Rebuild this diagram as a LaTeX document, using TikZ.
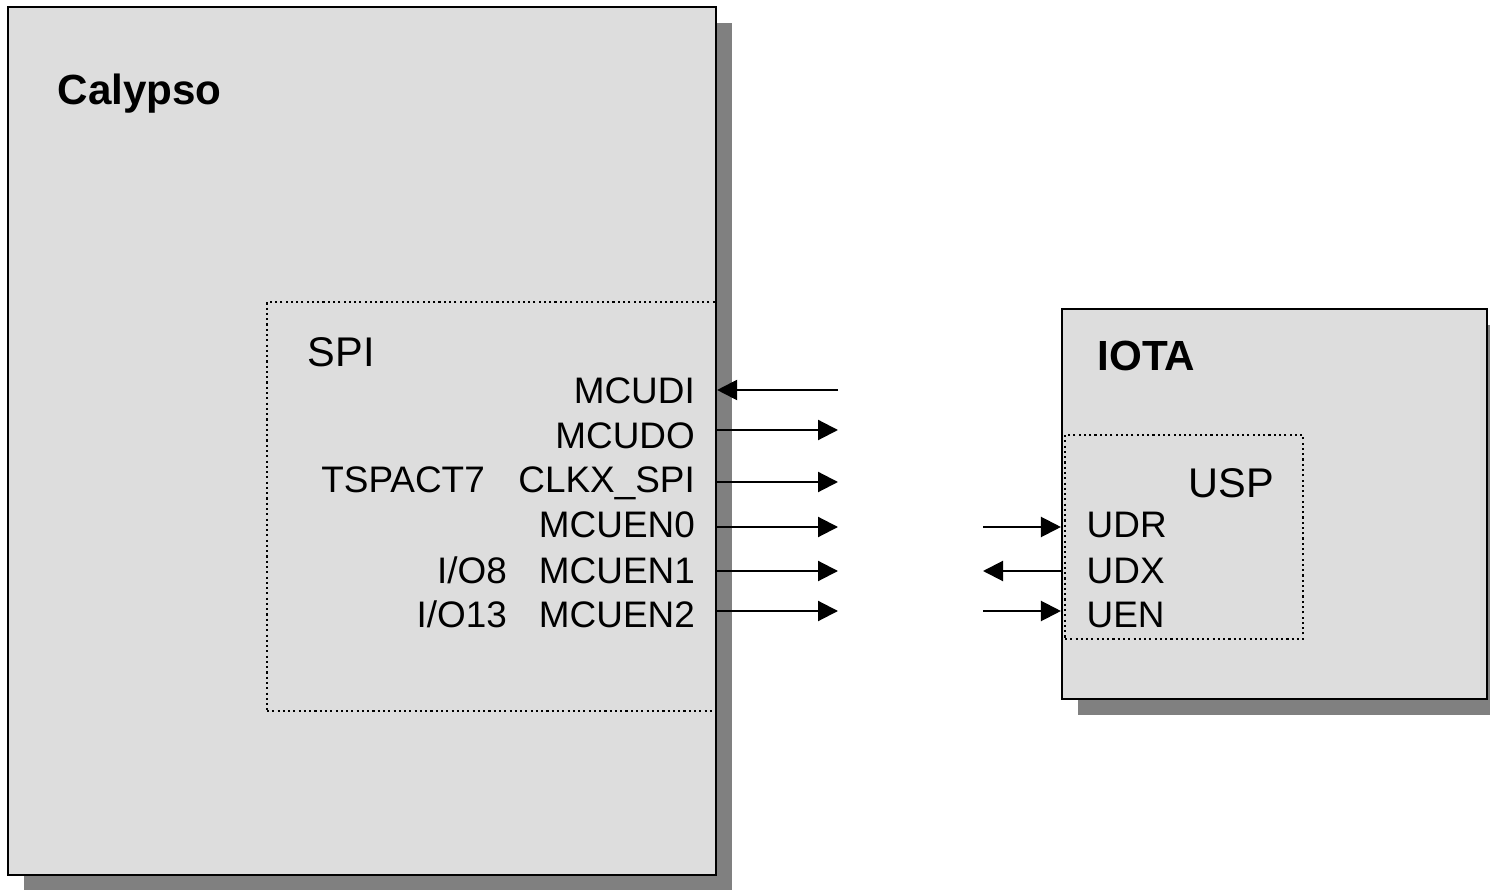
\documentclass[tikz,border=0pt]{standalone}
\usepackage{fontspec}
\setmainfont{Liberation Sans}
\usetikzlibrary{arrows.meta,shadows}
\definecolor{chipfill}{HTML}{DDDDDD}
\definecolor{chipshadow}{HTML}{808080}
\tikzset{
  chip/.style={draw, line width=0.6pt, fill=chipfill, inner sep=0pt,
    drop shadow={shadow xshift=0.16cm, shadow yshift=-0.16cm, fill=chipshadow, opacity=1}},
  block/.style={draw, line width=0.6pt, dash pattern=on 0.6pt off 0.9pt, inner sep=0pt},
  title/.style={font=\fontsize{12}{14}\selectfont\bfseries, inner sep=0pt},
  blocklabel/.style={font=\fontsize{11.8}{14}\selectfont, inner sep=0pt},
  pin/.style={font=\fontsize{10.5}{12}\selectfont, inner sep=0pt},
  sig/.style={line width=0.6pt, -{Triangle[length=2mm,width=2mm]}}
}
\begin{document}
\begin{tikzpicture}
	\useasboundingbox (0,0) rectangle (14.9,8.89);
	
	% Calypso 芯片 (带阴影的灰色大框)
	\node (calypso) [chip, minimum width=7.08cm, minimum height=8.68cm] at (3.62,4.48) {};
	\node (calypsoname) [title, anchor=base west] at (0.57,7.84) {Calypso};
	
	% SPI 模块 (虚线框)
	\node (spi) [block, minimum width=4.49cm, minimum height=4.09cm] at (4.915,3.825) {};
	\node (spiname) [blocklabel, anchor=base west] at (3.07,5.22) {SPI};
	
	% SPI 引脚名 (右对齐)
	\node (mcudi) [pin, anchor=base east] at (6.955,4.85) {MCUDI};
	\node (mcudo) [pin, anchor=base east] at (6.955,4.40) {MCUDO};
	\node (clkx) [pin, anchor=base east] at (6.955,3.96) {CLKX\_SPI};
	\node (mcuen0) [pin, anchor=base east] at (6.955,3.51) {MCUEN0};
	\node (mcuen1) [pin, anchor=base east] at (6.955,3.06) {MCUEN1};
	\node (mcuen2) [pin, anchor=base east] at (6.955,2.62) {MCUEN2};
	\node (tspact) [pin, anchor=base east] at (4.855,3.96) {TSPACT7}; % 复用引脚
	\node (io8) [pin, anchor=base east] at (5.075,3.06) {I/O8};
	\node (io13) [pin, anchor=base east] at (5.075,2.62) {I/O13};
	
	% IOTA 芯片
	\node (iota) [chip, minimum width=4.25cm, minimum height=3.90cm] at (12.745,3.85) {};
	\node (iotaname) [title, anchor=base west] at (10.97,5.18) {IOTA};
	
	% USP 模块 (虚线框)
	\node (usp) [block, minimum width=2.38cm, minimum height=2.04cm] at (11.84,3.52) {};
	\node (uspname) [blocklabel, anchor=base west] at (11.88,3.91) {USP};
	
	% USP 引脚名
	\node (udr) [pin, anchor=base west] at (10.86,3.51) {UDR};
	\node (udx) [pin, anchor=base west] at (10.86,3.05) {UDX};
	\node (uen) [pin, anchor=base west] at (10.86,2.62) {UEN};
	
	% Calypso 一侧的信号线
	\coordinate (mcudiend) at (8.38,4.99);
	\coordinate (mcudoend) at (8.38,4.59);
	\coordinate (clkxend) at (8.38,4.07);
	\coordinate (mcuen0end) at (8.38,3.62);
	\coordinate (mcuen1end) at (8.38,3.18);
	\coordinate (mcuen2end) at (8.38,2.78);
	\draw[sig] (mcudiend) -- (calypso.east |- mcudiend); % 输入
	\draw[sig] (calypso.east |- mcudoend) -- (mcudoend);
	\draw[sig] (calypso.east |- clkxend) -- (clkxend);
	\draw[sig] (calypso.east |- mcuen0end) -- (mcuen0end);
	\draw[sig] (calypso.east |- mcuen1end) -- (mcuen1end);
	\draw[sig] (calypso.east |- mcuen2end) -- (mcuen2end);
	
	% IOTA 一侧的信号线
	\coordinate (udrstart) at (9.83,3.62);
	\coordinate (udxend) at (9.83,3.18);
	\coordinate (uenstart) at (9.83,2.78);
	\draw[sig] (udrstart) -- (iota.west |- udrstart);
	\draw[sig] (iota.west |- udxend) -- (udxend); % 输出
	\draw[sig] (uenstart) -- (iota.west |- uenstart);
	
\end{tikzpicture}
\end{document}
